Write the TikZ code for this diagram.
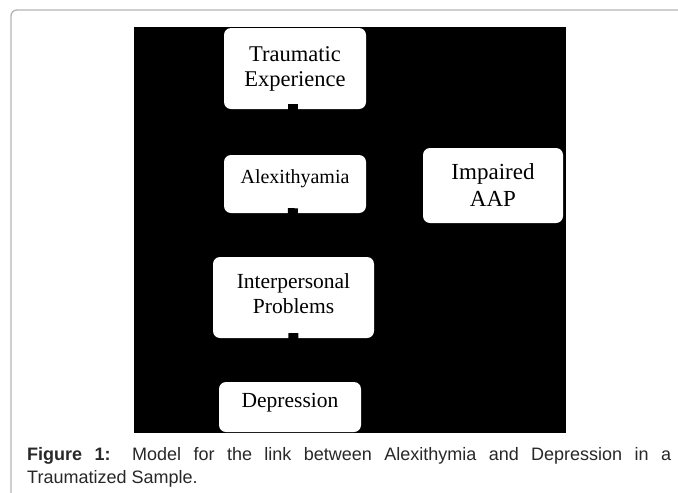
\documentclass[tikz,border=0pt]{standalone}
\usepackage{fontspec}
\setmainfont{Liberation Serif}
\newfontfamily\capfont{Liberation Sans}
\definecolor{framegray}{RGB}{180,180,180}
\definecolor{captext}{RGB}{40,40,40}
\begin{document}
\begin{tikzpicture}[x=1pt,y=-1pt,
  box/.style={fill=white, draw=none, rounded corners=7pt, inner xsep=0pt, inner ysep=0pt, align=center, text=black},
  link/.style={draw=black, line width=10pt}]
\useasboundingbox (0,0) rectangle (678,493);
\fill[white] (0,0) rectangle (678,493);
\draw[framegray, line width=1.3pt, rounded corners=6pt] (11,493) -- (11,10) -- (678,10);
\fill[black] (134,27) rectangle (566,433);
% boxes
\node[box, minimum width=142pt, minimum height=81pt, font=\fontsize{22.5}{25}\selectfont] (trauma) at (295,68.5) {Traumatic\\Experience};
\node[box, minimum width=142pt, text height=28pt, text depth=30pt, font=\fontsize{20}{24}\selectfont] (alex) at (295,184) {Alexithyamia};
\node[box, minimum width=140pt, minimum height=75pt, font=\fontsize{23}{27}\selectfont] (aap) at (493,185.5) {Impaired\\AAP};
\node[box, minimum width=161pt, minimum height=81pt, font=\fontsize{21.5}{25}\selectfont] (inter) at (293.5,297.5) {Interpersonal\\Problems\rule[-8pt]{0pt}{8pt}};
\node[box, minimum width=142pt, text height=25pt, text depth=25pt, font=\fontsize{21.5}{25}\selectfont] (dep) at (290,407) {Depression};
% connectors (black on black: only their starts show)
\draw[link] ([xshift=-2pt,yshift=5pt]trauma.south) -- ([xshift=-2pt]alex.north);
\draw[link] ([xshift=-2pt,yshift=5pt]alex.south) -- ([xshift=-2pt]inter.north);
\draw[link] ([yshift=5pt]inter.south) -- ([xshift=3pt]dep.north);
% caption
\node[anchor=north west, inner sep=0pt, text width=644pt, align=justify, text=captext,
  font=\capfont\fontsize{18}{23}\selectfont] (cap) at (27,447)
  {\textbf{Figure 1:} Model for the link between Alexithymia and Depression in a\linebreak Traumatized Sample.};
\end{tikzpicture}
\end{document}
